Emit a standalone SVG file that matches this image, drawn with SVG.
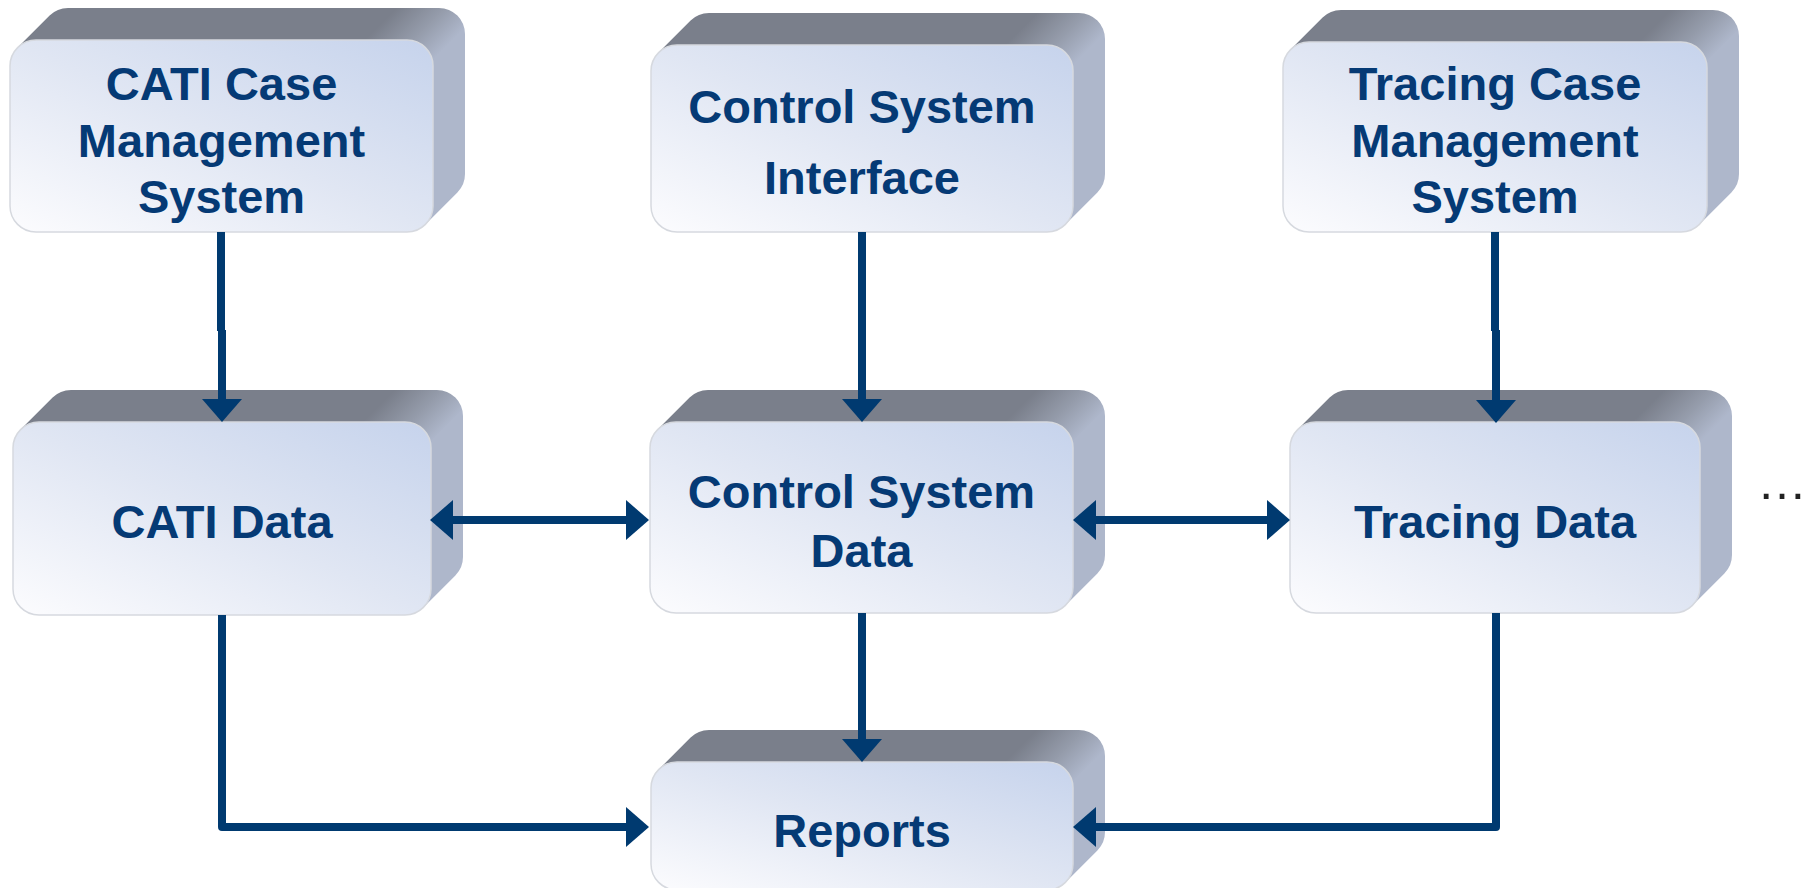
<svg xmlns="http://www.w3.org/2000/svg" width="1808" height="888" viewBox="0 0 1808 888">
  <style>
    .side { fill: url(#sideGrad); }
    .face { fill: url(#faceGrad); stroke: #d6d9df; stroke-width: 1.5; }
    .label { font-family: "Liberation Sans", Arial, sans-serif; font-weight: bold; font-size: 47px; fill: #053a75; text-anchor: middle; }
    .conn { fill: none; stroke: #003a70; stroke-width: 8; stroke-linejoin: round; }
    .more { font-family: "Liberation Sans", Arial, sans-serif; font-size: 50px; fill: #222222; }
  </style>
  <defs>
    <!-- extrusion shading: each box is drawn with its origin at the front face's top-right corner,
         so the dark top face / light right face split falls on the line x + y = 0 -->
    <linearGradient id="sideGrad" gradientUnits="userSpaceOnUse" x1="-34" y1="-34" x2="10" y2="10">
      <stop offset="0" stop-color="#7a7f8b"/>
      <stop offset="0.55" stop-color="#959cab"/>
      <stop offset="1" stop-color="#aeb7cb"/>
    </linearGradient>
    <linearGradient id="faceGrad" x1="0" y1="1" x2="1" y2="0">
      <stop offset="0" stop-color="#fcfcfe"/>
      <stop offset="0.5" stop-color="#e0e6f3"/>
      <stop offset="1" stop-color="#c6d3ec"/>
    </linearGradient>
    <marker id="head" viewBox="0 0 23 40" refX="3" refY="20" markerWidth="23" markerHeight="40" markerUnits="userSpaceOnUse" orient="auto-start-reverse">
      <path d="M0,0 L23,20 L0,40 Z" fill="#003a70"/>
    </marker>
  </defs>

  <g id="node-cati-cms" transform="translate(433,40)">
    <path class="side" d="M-415.4,7.6 L-383.4,-24.4 A26,26 0 0 1 -365,-32 H6 A26,26 0 0 1 32,-6 V134 A26,26 0 0 1 24.4,152.4 L-7.6,184.4 Z"/>
    <rect class="face" x="-423" y="0" width="423" height="192" rx="26"/>
    <text class="label" x="-211.5" y="60">CATI Case</text>
    <text class="label" x="-211.5" y="117">Management</text>
    <text class="label" x="-211.5" y="173">System</text>
  </g>

  <g id="node-csi" transform="translate(1073,45)">
    <path class="side" d="M-414.4,7.6 L-382.4,-24.4 A26,26 0 0 1 -364,-32 H6 A26,26 0 0 1 32,-6 V129 A26,26 0 0 1 24.4,147.4 L-7.6,179.4 Z"/>
    <rect class="face" x="-422" y="0" width="422" height="187" rx="26"/>
    <text class="label" x="-211" y="78">Control System</text>
    <text class="label" x="-211" y="149">Interface</text>
  </g>

  <g id="node-tracing-cms" transform="translate(1707,42)">
    <path class="side" d="M-416.4,7.6 L-384.4,-24.4 A26,26 0 0 1 -366,-32 H6 A26,26 0 0 1 32,-6 V132 A26,26 0 0 1 24.4,150.4 L-7.6,182.4 Z"/>
    <rect class="face" x="-424" y="0" width="424" height="190" rx="26"/>
    <text class="label" x="-212" y="58">Tracing Case</text>
    <text class="label" x="-212" y="115">Management</text>
    <text class="label" x="-212" y="171">System</text>
  </g>

  <g id="node-cati-data" transform="translate(431,422)">
    <path class="side" d="M-410.4,7.6 L-378.4,-24.4 A26,26 0 0 1 -360,-32 H6 A26,26 0 0 1 32,-6 V135 A26,26 0 0 1 24.4,153.4 L-7.6,185.4 Z"/>
    <rect class="face" x="-418" y="0" width="418" height="193" rx="26"/>
    <text class="label" x="-209" y="116">CATI Data</text>
  </g>

  <g id="node-cs-data" transform="translate(1073,422)">
    <path class="side" d="M-415.4,7.6 L-383.4,-24.4 A26,26 0 0 1 -365,-32 H6 A26,26 0 0 1 32,-6 V133 A26,26 0 0 1 24.4,151.4 L-7.6,183.4 Z"/>
    <rect class="face" x="-423" y="0" width="423" height="191" rx="26"/>
    <text class="label" x="-211.5" y="86">Control System</text>
    <text class="label" x="-211.5" y="145">Data</text>
  </g>

  <g id="node-tracing-data" transform="translate(1700,422)">
    <path class="side" d="M-402.4,7.6 L-370.4,-24.4 A26,26 0 0 1 -352,-32 H6 A26,26 0 0 1 32,-6 V133 A26,26 0 0 1 24.4,151.4 L-7.6,183.4 Z"/>
    <rect class="face" x="-410" y="0" width="410" height="191" rx="26"/>
    <text class="label" x="-205" y="116">Tracing Data</text>
  </g>

  <g id="node-reports" transform="translate(1073,762)">
    <path class="side" d="M-414.4,7.6 L-382.4,-24.4 A26,26 0 0 1 -364,-32 H6 A26,26 0 0 1 32,-6 V70 A26,26 0 0 1 24.4,88.4 L-7.6,120.4 Z"/>
    <rect class="face" x="-422" y="0" width="422" height="128" rx="26"/>
    <text class="label" x="-211" y="85">Reports</text>
  </g>

  <g id="more">
    <text class="more" x="1757" y="499">…</text>
  </g>

  <g id="connectors">
    <!-- case management systems feed their data stores -->
    <line class="conn" x1="221" y1="232" x2="221" y2="331"/>
    <line class="conn" x1="222" y1="330" x2="222" y2="402" marker-end="url(#head)"/>
    <line class="conn" x1="862" y1="232" x2="862" y2="402" marker-end="url(#head)"/>
    <line class="conn" x1="1495" y1="232" x2="1495" y2="331"/>
    <line class="conn" x1="1496" y1="330" x2="1496" y2="403" marker-end="url(#head)"/>
    <!-- two-way exchange between data stores -->
    <line class="conn" x1="450" y1="520" x2="629" y2="520" marker-start="url(#head)" marker-end="url(#head)"/>
    <line class="conn" x1="1093" y1="520" x2="1270" y2="520" marker-start="url(#head)" marker-end="url(#head)"/>
    <!-- data stores feed reports -->
    <path class="conn" d="M222,615 V827 H629" marker-end="url(#head)"/>
    <line class="conn" x1="862" y1="613" x2="862" y2="742" marker-end="url(#head)"/>
    <path class="conn" d="M1496,613 V827 H1093" marker-end="url(#head)"/>
  </g>
</svg>
